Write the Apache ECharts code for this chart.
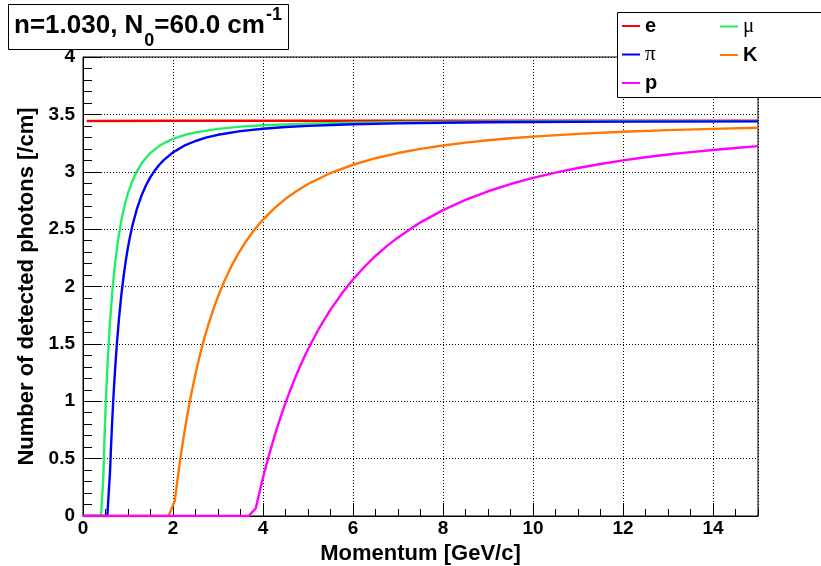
<!DOCTYPE html>
<html><head><meta charset="utf-8">
<script src="https://cdn.jsdelivr.net/npm/echarts@6/dist/echarts.min.js"></script>
<style>html,body{margin:0;padding:0;background:#fff}#c{width:821px;height:566px}</style>
</head><body><div id="c"></div>
<script>
// Values
const seriesNames = ['e', 'μ', 'π', 'K', 'p'];
const eP = [0.08, 2, 5, 10, 15];
const eN = [3.442, 3.444, 3.444, 3.444, 3.444];
const muP = [0, 0.40, 0.45, 0.475, 0.5, 0.525, 0.55, 0.6, 0.65, 0.7, 0.75, 0.8, 0.85, 0.9, 0.95, 1.0, 1.1, 1.2, 1.3, 1.4, 1.5, 1.7, 1.8, 2, 2.25, 2.5, 3, 3.5, 4, 5, 6, 7, 8, 10, 12, 15];
const muN = [0, 0, 0.326, 0.646, 0.919, 1.154, 1.357, 1.690, 1.950, 2.156, 2.322, 2.458, 2.570, 2.665, 2.745, 2.813, 2.922, 3.006, 3.071, 3.122, 3.164, 3.226, 3.249, 3.286, 3.320, 3.343, 3.374, 3.393, 3.405, 3.419, 3.427, 3.431, 3.434, 3.438, 3.440, 3.441];
const piP = [0, 0.54, 0.6, 0.625, 0.65, 0.675, 0.7, 0.725, 0.75, 0.8, 0.85, 0.9, 0.95, 1.0, 1.05, 1.1, 1.2, 1.3, 1.4, 1.5, 1.6, 1.7, 1.8, 2, 2.25, 2.5, 2.75, 3, 3.5, 4, 4.5, 5, 6, 7, 8, 9, 10, 12, 15];
const piN = [0, 0, 0.384, 0.624, 0.837, 1.026, 1.196, 1.348, 1.486, 1.723, 1.920, 2.084, 2.224, 2.343, 2.445, 2.534, 2.679, 2.792, 2.882, 2.955, 3.014, 3.063, 3.104, 3.169, 3.227, 3.268, 3.299, 3.322, 3.354, 3.375, 3.390, 3.400, 3.414, 3.422, 3.427, 3.431, 3.433, 3.437, 3.439];
const kP = [0, 1.9, 2.04, 2.1, 2.15, 2.2, 2.25, 2.3, 2.35, 2.4, 2.5, 2.6, 2.7, 2.8, 2.9, 3.0, 3.15, 3.3, 3.45, 3.6, 3.8, 4, 4.25, 4.5, 4.75, 5, 5.5, 6, 6.5, 7, 7.5, 8, 8.5, 9, 9.5, 10, 11, 12, 13, 14, 15];
const kN = [0, 0, 0.132, 0.319, 0.462, 0.596, 0.722, 0.839, 0.948, 1.051, 1.239, 1.405, 1.554, 1.686, 1.805, 1.913, 2.055, 2.179, 2.286, 2.381, 2.490, 2.583, 2.681, 2.764, 2.833, 2.893, 2.989, 3.061, 3.118, 3.163, 3.199, 3.229, 3.254, 3.274, 3.292, 3.306, 3.330, 3.349, 3.363, 3.374, 3.383];
const pP = [0, 3.68, 3.84, 3.9, 3.95, 4.0, 4.05, 4.1, 4.2, 4.3, 4.4, 4.5, 4.6, 4.7, 4.8, 4.9, 5.0, 5.25, 5.5, 5.75, 6, 6.25, 6.5, 6.75, 7, 7.5, 8, 8.5, 9, 9.5, 10, 10.5, 11, 11.5, 12, 12.5, 13, 13.5, 14, 14.5, 15];
const pN = [0, 0, 0.068, 0.171, 0.253, 0.333, 0.409, 0.482, 0.622, 0.752, 0.873, 0.986, 1.091, 1.190, 1.283, 1.371, 1.453, 1.638, 1.798, 1.938, 2.061, 2.170, 2.266, 2.352, 2.428, 2.559, 2.666, 2.755, 2.830, 2.893, 2.946, 2.993, 3.033, 3.068, 3.099, 3.126, 3.150, 3.171, 3.190, 3.207, 3.223];
const legendCol1 = ['e', 'π', 'p'];
const legendCol2 = ['μ', 'K'];

const F = '"Liberation Sans", Arial, Helvetica, sans-serif';
const FS = '"Liberation Serif", "Times New Roman", serif';
const colors = ['#ff0000', '#22ee66', '#0000ff', '#ff7700', '#ff00ff'];
function pairs(xs, ys) { return xs.map((x, i) => [x, ys[i]]); }
const dataSets = [pairs(eP, eN), pairs(muP, muN), pairs(piP, piN), pairs(kP, kN), pairs(pP, pN)];

const legRich = {
  b: { fontFamily: F, fontWeight: 'bold', fontSize: 20, color: '#000', lineHeight: 20 },
  g: { fontFamily: FS, fontSize: 21, color: '#000', lineHeight: 20 }
};
const legFmt = n => (n === 'μ' || n === 'π') ? '{g|' + n + '}' : '{b|' + n + '}';
function legend(left, data) {
  return {
    left: left, top: 16, orient: 'vertical', data: data, icon: 'rect',
    itemWidth: 18, itemHeight: 2, itemGap: 8, selectedMode: false, padding: 0,
    formatter: legFmt, textStyle: { rich: legRich, fontSize: 20, lineHeight: 20 }, z: 200
  };
}

const chart = echarts.init(document.getElementById('c'), null, { renderer: 'canvas' });
chart.setOption({
  animation: false,
  backgroundColor: '#fff',
  title: {
    left: 8, top: 4, padding: [0, 7, 0, 6],
    backgroundColor: '#fff', borderColor: '#000', borderWidth: 1, z: 200,
    text: '{a|n=1.030, N}{s|0}{a|=60.0 cm}{u|-1}',
    textStyle: {
      rich: {
        a: { fontFamily: F, fontWeight: 'bold', fontSize: 26, color: '#000', lineHeight: 34, verticalAlign: 'top', padding: [9, 0, 0, 0] },
        s: { fontFamily: F, fontWeight: 'bold', fontSize: 18, color: '#000', lineHeight: 14, verticalAlign: 'top', padding: [28, 0, 0, 1] },
        u: { fontFamily: F, fontWeight: 'bold', fontSize: 18, color: '#000', lineHeight: 19, verticalAlign: 'top', padding: [2, 0, 0, 1] }
      }
    }
  },
  grid: { left: 83, right: 63, top: 57, bottom: 50, show: true, borderColor: '#000', borderWidth: 1, backgroundColor: 'transparent', outerBoundsMode: 'none', containLabel: false },
  xAxis: [{
    type: 'value', min: 0, max: 15, interval: 2, position: 'bottom',
    axisLine: { show: true, onZero: false, lineStyle: { color: '#000', width: 1 } },
    axisTick: { show: true, inside: true, length: 13, lineStyle: { color: '#000' } },
    axisLabel: { show: true, margin: 3, fontFamily: F, fontWeight: 'bold', fontSize: 19, color: '#000', showMaxLabel: false },
    splitLine: { show: true, lineStyle: { color: '#000', type: [1, 2], width: 1 } },
    name: 'Momentum [GeV/c]', nameLocation: 'middle', nameGap: 19,
    nameTextStyle: { fontFamily: F, fontWeight: 'bold', fontSize: 22, color: '#000' }
  }, {
    type: 'value', min: 0, max: 15, interval: 0.5, position: 'bottom',
    axisLine: { show: false }, axisLabel: { show: false }, splitLine: { show: false },
    axisTick: { show: true, inside: true, length: 7, lineStyle: { color: '#000' } }
  }],
  yAxis: {
    type: 'value', min: 0, max: 4, interval: 0.5,
    axisLine: { show: true, lineStyle: { color: '#000', width: 1 } },
    axisTick: { show: true, inside: true, length: 18, lineStyle: { color: '#000' } },
    minorTick: { show: true, splitNumber: 5, length: 9, lineStyle: { color: '#000' } },
    axisLabel: { margin: 8, fontFamily: F, fontWeight: 'bold', fontSize: 19, color: '#000' },
    splitLine: { show: true, lineStyle: { color: '#000', type: [1, 2], width: 1 } },
    name: 'Number of detected photons [/cm]', nameLocation: 'middle', nameGap: 41,
    nameTextStyle: { fontFamily: F, fontWeight: 'bold', fontSize: 22, color: '#000' }
  },
  legend: [legend(622, legendCol1), legend(720, legendCol2)],
  graphic: [{
    type: 'rect', z: 100, shape: { x: 617.5, y: 12.5, width: 230, height: 85 },
    style: { fill: '#fff', stroke: '#000', lineWidth: 1 }
  }],
  series: seriesNames.map((n, i) => ({
    name: n, type: 'line', xAxisIndex: 0, data: dataSets[i],
    showSymbol: false, symbol: 'none',
    lineStyle: { color: colors[i], width: 2.4 }, itemStyle: { color: colors[i] }
  }))
});
</script></body></html>
